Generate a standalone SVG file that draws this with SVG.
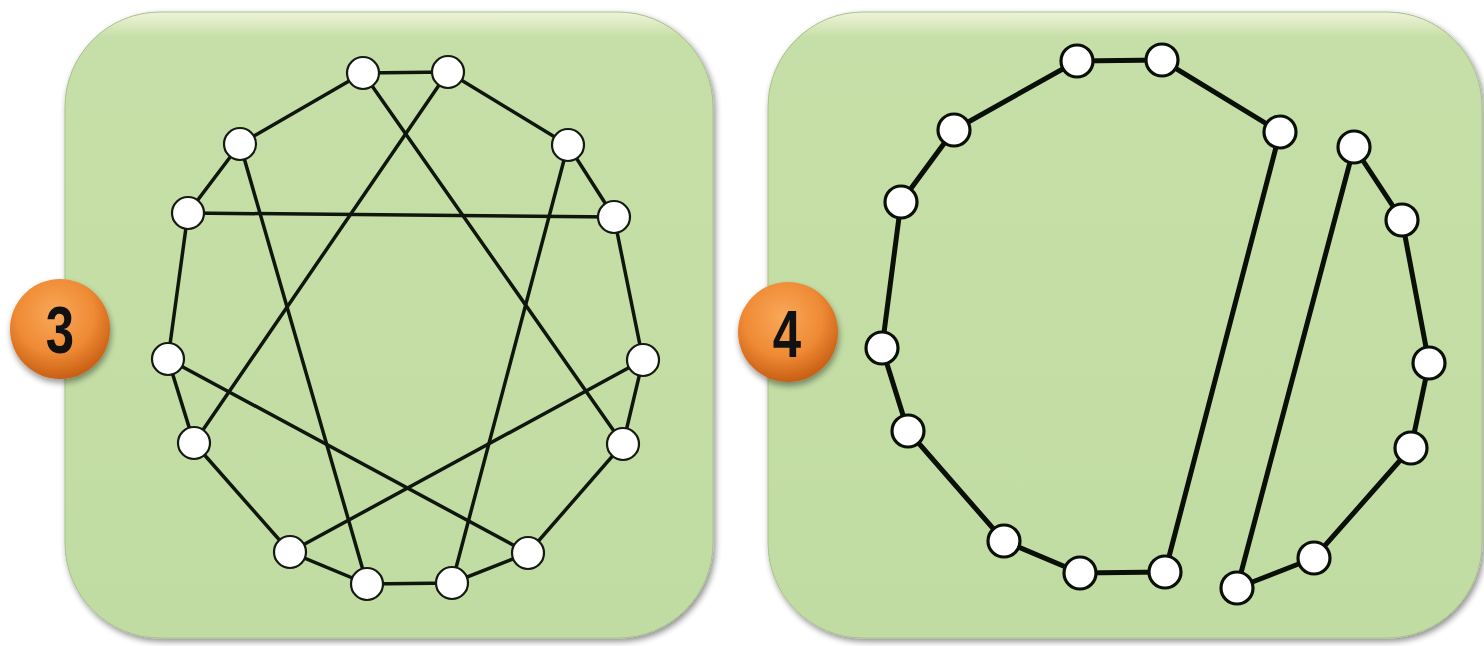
<svg xmlns="http://www.w3.org/2000/svg" width="1484" height="646" viewBox="0 0 1484 646">
  <defs>
    <linearGradient id="panelGrad" x1="0" y1="0" x2="0" y2="1">
      <stop offset="0" stop-color="#eef3dc"/>
      <stop offset="0.012" stop-color="#e4eecb"/>
      <stop offset="0.04" stop-color="#c6dfa8"/>
      <stop offset="1" stop-color="#c1dca2"/>
    </linearGradient>
    <radialGradient id="badgeGrad" cx="0.45" cy="0.35" r="0.65">
      <stop offset="0" stop-color="#f9a858"/>
      <stop offset="0.6" stop-color="#ef8a35"/>
      <stop offset="1" stop-color="#c85f14"/>
    </radialGradient>
    <filter id="shadow" x="-10%" y="-10%" width="120%" height="120%">
      <feGaussianBlur in="SourceAlpha" stdDeviation="3"/>
      <feOffset dx="2" dy="3" result="b"/>
      <feComponentTransfer><feFuncA type="linear" slope="0.45"/></feComponentTransfer>
      <feMerge><feMergeNode/><feMergeNode in="SourceGraphic"/></feMerge>
    </filter>
    <filter id="bshadow" x="-30%" y="-30%" width="160%" height="160%">
      <feGaussianBlur in="SourceAlpha" stdDeviation="3"/>
      <feOffset dx="1" dy="4" result="b"/>
      <feComponentTransfer><feFuncA type="linear" slope="0.4"/></feComponentTransfer>
      <feMerge><feMergeNode/><feMergeNode in="SourceGraphic"/></feMerge>
    </filter>
  </defs>
  <style>
    .panel { fill: url(#panelGrad); stroke: #a9bf8c; stroke-width: 1; filter: url(#shadow); }
    .badge { fill: url(#badgeGrad); filter: url(#bshadow); }
    .blabel { font-family: "Liberation Sans", Arial, sans-serif; font-weight: bold; font-size: 60px; fill: #111; text-anchor: middle; }
    .e1 { stroke: #0f170d; stroke-width: 3.5; fill: none; stroke-linecap: round; }
    .e2 { stroke: #0a0f08; stroke-width: 5; fill: none; stroke-linecap: round; }
    .n1 { fill: #ffffff; stroke: #141a12; stroke-width: 2.2; }
    .n2 { fill: #ffffff; stroke: #0a0f08; stroke-width: 3.2; }
  </style>
  <rect width="1484" height="646" fill="#ffffff"/>

  <g id="panel3">
    <rect class="panel" x="65" y="12" width="648" height="626" rx="95" ry="95"/>
  </g>
  <g id="panel4">
    <rect class="panel" x="768" y="12" width="714" height="626" rx="95" ry="95"/>
  </g>

  <g id="badge3">
    <circle class="badge" cx="60" cy="329" r="50"/>
    <text class="blabel" x="0" y="0" transform="translate(60,353) scale(0.85,1.1)">3</text>
  </g>
  <g id="badge4">
    <circle class="badge" cx="788" cy="332" r="50"/>
    <text class="blabel" x="0" y="0" transform="translate(787,357) scale(0.85,1.1)">4</text>
  </g>

  <g id="connectors">
    <path class="e1" d="M363,73 L448,72 L568,145 L614,217 L643,360 L623,444 L528,553 L452,583 L367,584 L290,552 L194,443 L168,359 L188,213 L240,144 Z"/>
    <line class="e1" x1="188" y1="213" x2="614" y2="217"/>
    <line class="e1" x1="363" y1="73" x2="623" y2="444"/>
    <line class="e1" x1="448" y1="72" x2="194" y2="443"/>
    <line class="e1" x1="240" y1="144" x2="367" y2="584"/>
    <line class="e1" x1="568" y1="145" x2="452" y2="583"/>
    <line class="e1" x1="168" y1="359" x2="528" y2="553"/>
    <line class="e1" x1="643" y1="360" x2="290" y2="552"/>
    <path class="e2" d="M1165,572 L1080,573 L1004,541 L908,431 L882,348 L901,202 L954,130 L1077,61 L1162,60 L1280,132 Z"/>
    <path class="e2" d="M1354,147 L1402,220 L1429,363 L1411,448 L1314,558 L1237,588 Z"/>
  </g>

  <g id="nodes3">
    <circle id="n3a" class="n1" cx="363" cy="73" r="16"/>
    <circle id="n3b" class="n1" cx="448" cy="72" r="16"/>
    <circle id="n3c" class="n1" cx="240" cy="144" r="16"/>
    <circle id="n3d" class="n1" cx="568" cy="145" r="16"/>
    <circle id="n3e" class="n1" cx="188" cy="213" r="16"/>
    <circle id="n3f" class="n1" cx="614" cy="217" r="16"/>
    <circle id="n3g" class="n1" cx="168" cy="359" r="16"/>
    <circle id="n3h" class="n1" cx="643" cy="360" r="16"/>
    <circle id="n3i" class="n1" cx="194" cy="443" r="16"/>
    <circle id="n3j" class="n1" cx="623" cy="444" r="16"/>
    <circle id="n3k" class="n1" cx="290" cy="552" r="16"/>
    <circle id="n3l" class="n1" cx="528" cy="553" r="16"/>
    <circle id="n3m" class="n1" cx="367" cy="584" r="16"/>
    <circle id="n3n" class="n1" cx="452" cy="583" r="16"/>
  </g>
  <g id="nodes4">
    <circle id="n4a" class="n2" cx="1077" cy="61" r="16"/>
    <circle id="n4b" class="n2" cx="1162" cy="60" r="16"/>
    <circle id="n4c" class="n2" cx="954" cy="130" r="16"/>
    <circle id="n4d" class="n2" cx="1280" cy="132" r="16"/>
    <circle id="n4e" class="n2" cx="901" cy="202" r="16"/>
    <circle id="n4f" class="n2" cx="1354" cy="147" r="16"/>
    <circle id="n4g" class="n2" cx="1402" cy="220" r="16"/>
    <circle id="n4h" class="n2" cx="882" cy="348" r="16"/>
    <circle id="n4i" class="n2" cx="1429" cy="363" r="16"/>
    <circle id="n4j" class="n2" cx="908" cy="431" r="16"/>
    <circle id="n4k" class="n2" cx="1411" cy="448" r="16"/>
    <circle id="n4l" class="n2" cx="1004" cy="541" r="16"/>
    <circle id="n4m" class="n2" cx="1314" cy="558" r="16"/>
    <circle id="n4n" class="n2" cx="1080" cy="573" r="16"/>
    <circle id="n4o" class="n2" cx="1165" cy="572" r="16"/>
    <circle id="n4p" class="n2" cx="1237" cy="588" r="16"/>
  </g>
</svg>
